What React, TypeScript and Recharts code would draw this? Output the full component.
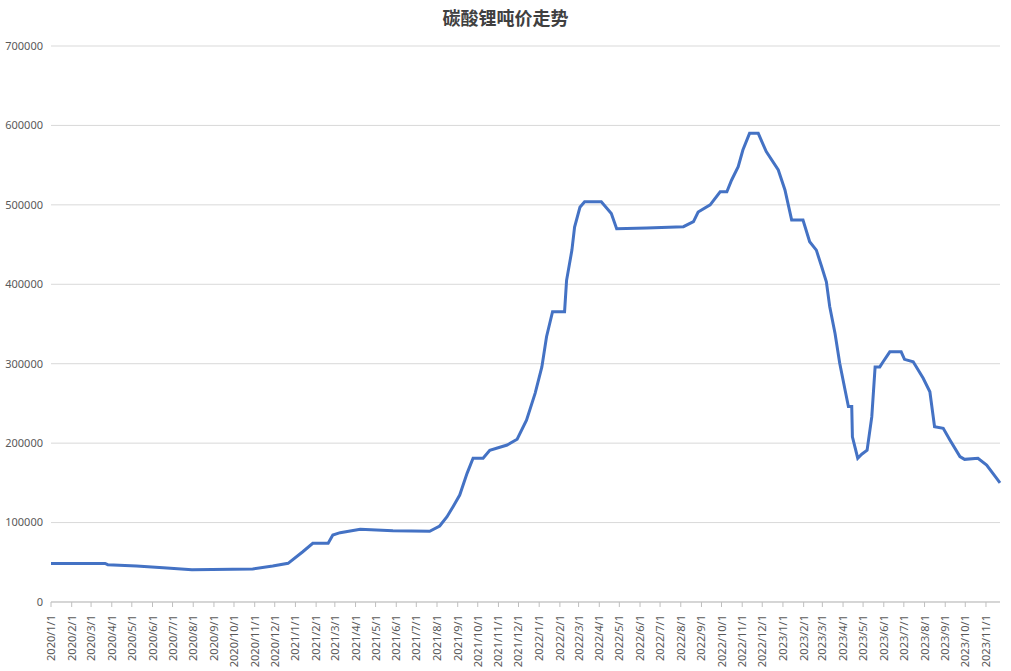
import React from "react";
import { LineChart, Line, XAxis, YAxis, CartesianGrid } from "recharts";

// 读图得到的日期与吨价
const dates = [
  "2020-01-01", "2020-03-22", "2020-03-26", "2020-05-08", "2020-06-17", "2020-07-30",
  "2020-10-29", "2020-11-28", "2020-12-21", "2021-01-12", "2021-01-27", "2021-02-19",
  "2021-02-26", "2021-03-09", "2021-04-08", "2021-05-27", "2021-07-21", "2021-08-05",
  "2021-08-16", "2021-08-25", "2021-09-04", "2021-09-15", "2021-09-24", "2021-10-09",
  "2021-10-19", "2021-11-14", "2021-11-29", "2021-12-13", "2021-12-26", "2022-01-05",
  "2022-01-12", "2022-01-21", "2022-02-08", "2022-02-11", "2022-02-19", "2022-02-23",
  "2022-03-03", "2022-03-10", "2022-04-04", "2022-04-19", "2022-04-27", "2022-06-11",
  "2022-08-05", "2022-08-20", "2022-08-27", "2022-09-14", "2022-09-29", "2022-10-09",
  "2022-10-16", "2022-10-26", "2022-11-02", "2022-11-12", "2022-11-25", "2022-12-07",
  "2022-12-25", "2023-01-04", "2023-01-14", "2023-01-31", "2023-02-10", "2023-02-20",
  "2023-02-28", "2023-03-07", "2023-03-12", "2023-03-20", "2023-03-27", "2023-04-04",
  "2023-04-09", "2023-04-14", "2023-04-15", "2023-04-23", "2023-04-29", "2023-05-07",
  "2023-05-14", "2023-05-19", "2023-05-26", "2023-05-31", "2023-06-10", "2023-06-27",
  "2023-07-02", "2023-07-15", "2023-07-30", "2023-08-09", "2023-08-16", "2023-08-29",
  "2023-09-08", "2023-09-23", "2023-09-30", "2023-10-20", "2023-11-02", "2023-11-17",
  "2023-11-22",
];

const prices = [
  48500, 48500, 47000, 45300, 43200, 40700,
  41500, 45300, 48700, 63300, 73900, 73900,
  84300, 87300, 91500, 89800, 89000, 95700,
  107400, 120000, 134700, 162000, 181000, 181000,
  191000, 197600, 205000, 229000, 263000, 296000,
  334000, 365500, 365500, 405000, 443000, 472000,
  497000, 504000, 504000, 489000, 470000, 471000,
  472500, 479000, 491000, 500000, 516500, 516500,
  531000, 548000, 569000, 590000, 590000, 567000,
  544000, 518700, 481000, 481000, 453500, 443000,
  422000, 403000, 372000, 338000, 300500, 267000,
  246000, 246000, 208000, 181000, 186000, 191000,
  233000, 296000, 296000, 302500, 315000, 315000,
  305500, 302500, 281600, 264700, 220700, 218700,
  204000, 183000, 179600, 181000, 172500, 155700,
  150000,
];

const yTicks = [0, 100000, 200000, 300000, 400000, 500000, 600000, 700000];

const DAY = 86400000;
const origin = Date.UTC(2020, 0, 1);
const toDay = (s: string) => {
  const [y, m, d] = s.split("-").map(Number);
  return (Date.UTC(y, m - 1, d) - origin) / DAY;
};

const data = dates.map((d, i) => ({ t: toDay(d), price: prices[i] }));

// 每月 1 日的刻度
const monthTicks: number[] = [];
const monthLabels: Record<number, string> = {};
for (let y = 2020; y <= 2023; y++) {
  for (let m = 1; m <= 12; m++) {
    if (y === 2023 && m > 11) break;
    const t = (Date.UTC(y, m - 1, 1) - origin) / DAY;
    monthTicks.push(t);
    monthLabels[t] = `${y}/${m}/1`;
  }
}

const XTick = (props: any) => {
  const { x, y, payload } = props;
  return (
    <g transform={`translate(${x},${y})`}>
      <text transform="rotate(-90)" x={-6} y={0} dy={4} textAnchor="end" fill="#595959" fontSize={11} fontFamily="'Noto Sans', sans-serif">
        {monthLabels[payload.value]}
      </text>
    </g>
  );
};

const App = () => {
  return (
    <div style={{ position: "absolute", left: 0, top: 0, width: 1011, height: 671, background: "#fff" }}>
      <div style={{ position: "absolute", left: 0, top: 4, width: 1011, textAlign: "center", fontFamily: "'Noto Sans CJK SC', sans-serif", fontWeight: "bold", fontSize: 18, color: "#404040" }}>
        碳酸锂吨价走势
      </div>
      <LineChart width={1011} height={671} data={data} margin={{ top: 46, right: 11, left: 0, bottom: 0 }}>
        <CartesianGrid horizontal vertical={false} stroke="#d9d9d9" />
        <XAxis
          dataKey="t"
          type="number"
          domain={[0, toDay("2023-11-22")]}
          ticks={monthTicks}
          interval={0}
          height={69}
          tick={<XTick />}
          stroke="#bfbfbf"
          tickSize={5}
        />
        <YAxis
          domain={[0, 700000]}
          ticks={yTicks}
          width={51}
          axisLine={false}
          tickLine={false}
          tick={{ fill: "#595959", fontSize: 11, fontFamily: "'Noto Sans', sans-serif" }}
        />
        <Line type="linear" dataKey="price" stroke="#4472c4" strokeWidth={3} dot={false} isAnimationActive={false} />
      </LineChart>
    </div>
  );
};

export default App;
